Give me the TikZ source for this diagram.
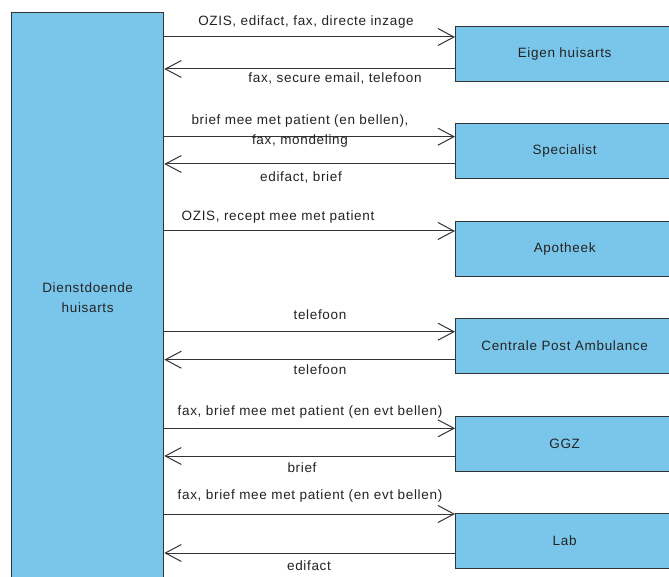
\documentclass[tikz,border=0pt]{standalone}
\usepackage{fontspec}
\setmainfont{Liberation Sans}[LetterSpace=5]
\usetikzlibrary{arrows.meta}
\definecolor{boxfill}{RGB}{122,198,235}
\definecolor{edgec}{RGB}{51,51,51}
\definecolor{textc}{RGB}{35,35,35}
\begin{document}
\begin{tikzpicture}[x=1pt,y=-1pt,
  box/.style={draw=edgec, line width=1.3pt, fill=boxfill, inner sep=0pt, font=\fontsize{13.5}{20}\selectfont, text=textc},
  rbox/.style={box, minimum width=218pt, minimum height=55pt, anchor=north west},
  conn/.style={draw=edgec, line width=1pt, -{Straight Barb[length=16pt,width=17pt,line width=1pt]}},
  lbl/.style={font=\fontsize{13.5}{20}\selectfont, text=textc, inner sep=0pt}
]
\useasboundingbox (0,0) rectangle (669,577);
\clip (0,0) rectangle (669,577);
\fill[white] (0,0) rectangle (669,577);

\node[box, minimum width=152pt, minimum height=570pt, anchor=north west, align=center] (dh) at (11,12) {Dienstdoende\\huisarts};

\node[rbox] (eh) at (455,26) {Eigen huisarts};
\node[rbox] (sp) at (455,123) {Specialist};
\node[rbox] (ap) at (455,221) {Apotheek};
\node[rbox] (cpa) at (455,318) {Centrale Post Ambulance};
\node[rbox] (ggz) at (455,415.5) {GGZ};
\node[rbox] (lab) at (455,513) {Lab};

\draw[conn] (dh.east |- 0,37) -- (eh.west |- 0,37);
\draw[conn] (eh.west |- 0,69) -- (dh.east |- 0,69);
\draw[conn] (dh.east |- 0,136.7) -- (sp.west |- 0,136.7);
\draw[conn] (sp.west |- 0,164) -- (dh.east |- 0,164);
\draw[conn] (dh.east |- 0,231) -- (ap.west |- 0,231);
\draw[conn] (dh.east |- 0,331.7) -- (cpa.west |- 0,331.7);
\draw[conn] (cpa.west |- 0,359.7) -- (dh.east |- 0,359.7);
\draw[conn] (dh.east |- 0,428.3) -- (ggz.west |- 0,428.3);
\draw[conn] (ggz.west |- 0,456) -- (dh.east |- 0,456);
\draw[conn] (dh.east |- 0,514) -- (lab.west |- 0,514);
\draw[conn] (lab.west |- 0,553) -- (dh.east |- 0,553);

\node[lbl] (l1) at (306,22) {OZIS, edifact, fax, directe inzage};
\node[lbl] (l2) at (335,78) {fax, secure email, telefoon};
\node[lbl] (l3) at (300,121) {brief mee met patient (en bellen),};
\node[lbl] (l4) at (300,141) {fax, mondeling};
\node[lbl] (l5) at (301,177) {edifact, brief};
\node[lbl] (l6) at (278,217) {OZIS, recept mee met patient};
\node[lbl] (l7) at (320,315) {telefoon};
\node[lbl] (l8) at (320,370) {telefoon};
\node[lbl] (l9) at (310,412) {fax, brief mee met patient (en evt bellen)};
\node[lbl] (l10) at (302,468) {brief};
\node[lbl] (l11) at (310,496) {fax, brief mee met patient (en evt bellen)};
\node[lbl] (l12) at (309,566) {edifact};
\end{tikzpicture}
\end{document}
